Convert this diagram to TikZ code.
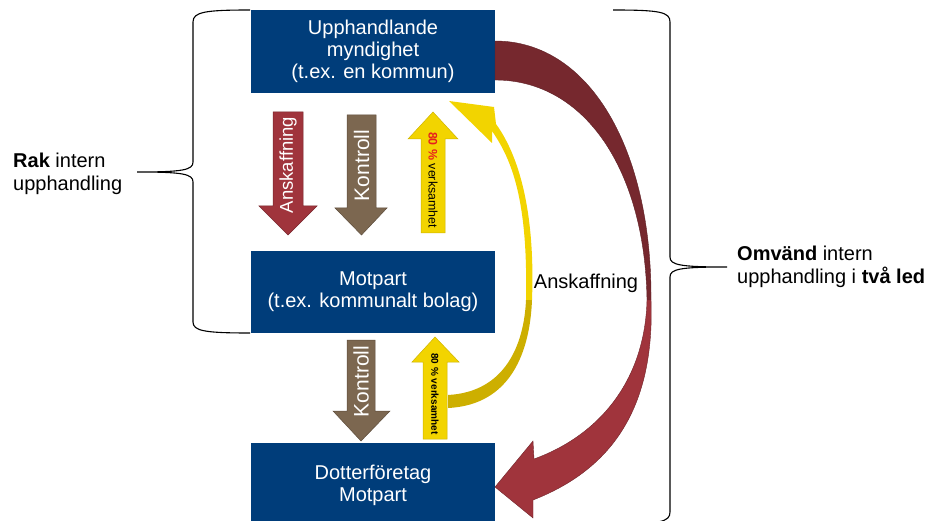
\documentclass[tikz,border=0pt]{standalone}
\usepackage{fontspec}
\setmainfont{Liberation Sans}
\usetikzlibrary{positioning}
\definecolor{boxblue}{RGB}{0,61,122}
\definecolor{redarrow}{RGB}{160,52,60}
\definecolor{darkred}{RGB}{118,40,46}
\definecolor{brownarrow}{RGB}{124,103,80}
\definecolor{yellowarrow}{RGB}{242,212,0}
\definecolor{darkyellow}{RGB}{205,175,0}
\definecolor{pctred}{RGB}{230,30,30}

\begin{document}
\begin{tikzpicture}[
        x=1pt, y=-1pt,
        box/.style={rectangle, fill=boxblue, text=white, minimum width=244pt, minimum height=83pt, align=center, font=\fontsize{20}{22}\selectfont},
        sidetext/.style={anchor=west, inner sep=0pt, align=left, font=\fontsize{20}{23}\selectfont},
        arrowtext/.style={inner sep=0pt, text=white},
        brace/.style={draw=black, line width=1.1pt},
        blockred/.style={fill=redarrow, draw=redarrow!75!black, line width=0.5pt},
        blockbrown/.style={fill=brownarrow, draw=brownarrow!75!black, line width=0.5pt},
        blockyellow/.style={fill=yellowarrow, draw=yellowarrow!85!black, line width=0.5pt}
    ]
        \useasboundingbox (0,0) rectangle (937,521);
        \clip (0,0) rectangle (937,521);

        % boxes
        \node[box] (myndighet) at (373,51.5) {Upphandlande\\myndighet\\(t.ex. en kommun)};
        \node[box, minimum height=82pt] (motpart) at (373,292) {Motpart\\(t.ex. kommunalt bolag)};
        \node[box, minimum height=84pt] (dotter) at (373,485) {Dotterföretag\\Motpart};

        % block arrows, upper level
        \fill[blockred] (273,112) -- (303,112) -- (303,206) -- (317,206) -- (288,235) -- (259,206) -- (273,206) -- cycle;
        \node[arrowtext, rotate=90, font=\fontsize{18.5}{20}\selectfont] (anskdown) at (288,165) {Anskaffning};
        \fill[blockbrown] (347,115) -- (376,115) -- (376,208) -- (387,208) -- (361.5,235) -- (335,208) -- (347,208) -- cycle;
        \node[arrowtext, rotate=90, font=\fontsize{21}{22}\selectfont] (kontrollup) at (361.5,165.5) {Kontroll};
        \fill[blockyellow] (421,233) -- (445,233) -- (445,139) -- (458,139) -- (433,112) -- (408,139) -- (421,139) -- cycle;
        \node[arrowtext, text=black, rotate=-90, font=\fontsize{12.4}{13}\selectfont] (verkup) at (433,180) {{\color{pctred}\textbf{80 \%}} verksamhet};

        % block arrows, lower level
        \fill[blockbrown] (347,340) -- (375,340) -- (375,411) -- (390,411) -- (361,441) -- (333,411) -- (347,411) -- cycle;
        \node[arrowtext, rotate=90, font=\fontsize{21}{22}\selectfont] (kontrolllow) at (361,381.5) {Kontroll};
        \fill[blockyellow] (423,439) -- (447,439) -- (447,362) -- (459,362) -- (435,337) -- (412,362) -- (423,362) -- cycle;
        \node[arrowtext, text=black, rotate=-90, font=\fontsize{10}{11}\selectfont] (verklow) at (435,394) {\textbf{80 \% verksamhet}};

        % curved yellow arrow
        \fill[darkyellow] (448,395) .. controls (505,392) and (524,345) .. (526,300) -- (532,300) .. controls (530,350) and (512,405) .. (448,408) -- cycle;
        \fill[yellowarrow] (526,300) .. controls (528,200) and (512,160) .. (492,131) -- (492,143) -- (449,101) -- (494,107) -- (496,124) .. controls (522,160) and (535,220) .. (532,300) -- cycle;
        \node[font=\fontsize{20}{22}\selectfont, inner sep=0pt] (ankscurve) at (586,283) {Anskaffning};

        % curved red arrow
        \filldraw[fill=darkred, draw=darkred!80!black, line width=0.4pt] (495,41) .. controls (590,41) and (652,150) .. (651,300) -- (647,300) .. controls (645,170) and (585,80) .. (495,80) -- cycle;
        \filldraw[fill=redarrow, draw=redarrow!70!black, line width=0.4pt] (647,300) -- (651,300) .. controls (655,410) and (610,470) .. (533,500) -- (533,518) -- (495,487) -- (533,441) -- (534,459) .. controls (600,435) and (645,380) .. (647,300) -- cycle;

        % braces
        \draw[brace] (250,10) .. controls (205,10) and (193,12) .. (193,22) -- (193,162) .. controls (193,170) and (183,172) .. (137,172) .. controls (183,172) and (193,174) .. (193,182) -- (193,322) .. controls (193,331) and (205,333) .. (250,333);
        \draw[brace] (613,10) .. controls (660,10) and (670,12) .. (670,22) -- (670,257) .. controls (670,265) and (680,267) .. (727,267) .. controls (680,267) and (670,269) .. (670,277) -- (670,512) .. controls (670,522) and (660,524) .. (613,524);

        % side texts
        \node[sidetext] (rak) at (13,174) {\textbf{Rak} intern\\upphandling};
        \node[sidetext] (omvand) at (737,266.5) {\textbf{Omvänd} intern\\upphandling i \textbf{två led}};
    \end{tikzpicture}
\end{document}
